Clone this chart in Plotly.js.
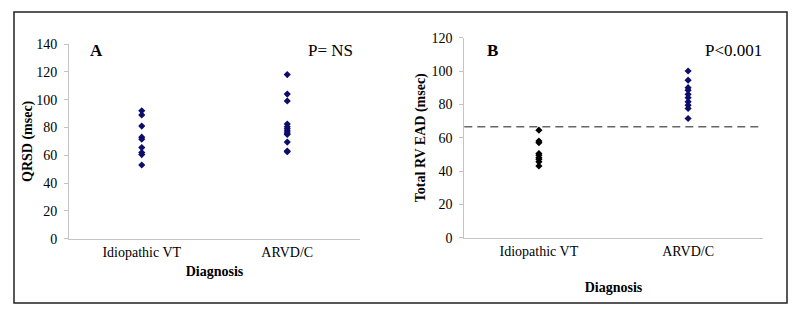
<!DOCTYPE html>
<html>
<head>
<meta charset="utf-8">
<script src="https://cdn.plot.ly/plotly-3.0.1.min.js"></script>
<style>html,body{margin:0;padding:0;background:#fff;}#chart{width:800px;height:318px;}</style>
</head>
<body>
<div id="chart"></div>
<script>
const categories = ['Idiopathic VT', 'ARVD/C'];
// Panel A: QRSD (msec)
const qrsdIdiopathic = [92, 89, 81, 73, 71.5, 65.5, 62, 60.5, 53];
const qrsdARVD = [118, 104, 99, 82.5, 80.5, 79, 77.5, 76, 75, 69.5, 63, 62.5];
// Panel B: Total RV EAD (msec)
const eadIdiopathic = [64.5, 58, 57, 50.5, 49.5, 48, 47, 45.5, 43];
const eadARVD = [100, 94.5, 90, 88.5, 86, 84, 81.5, 79.5, 77.5, 71.5];
const eadCutoff = 66.5;
const yTicksA = [0, 20, 40, 60, 80, 100, 120, 140];
const yTicksB = [0, 20, 40, 60, 80, 100, 120];

const navy = '#0d0d6b';
const serif = 'Liberation Serif';

function pts(cat, vals, color, xa, ya) {
  return {
    type: 'scatter', mode: 'markers',
    x: vals.map(() => cat), y: vals,
    xaxis: xa, yaxis: ya,
    marker: {symbol: 'diamond', size: 5.5, color: color},
    showlegend: false, hoverinfo: 'y'
  };
}

const data = [
  pts(categories[0], qrsdIdiopathic, navy, 'x', 'y'),
  pts(categories[1], qrsdARVD, navy, 'x', 'y'),
  pts(categories[0], eadIdiopathic, '#000000', 'x2', 'y2'),
  pts(categories[1], eadARVD, navy, 'x2', 'y2')
];

const axisColor = '#c4c4c4';
const xBase = {
  type: 'category', categoryarray: categories, range: [-0.5, 1.5],
  showline: true, linecolor: axisColor, linewidth: 1,
  showgrid: false, zeroline: false, ticks: '',
  tickfont: {family: serif, size: 14, color: '#000'},
  fixedrange: true
};
const yBase = {
  showline: true, linecolor: axisColor, linewidth: 1,
  showgrid: false, zeroline: false, ticks: 'outside', ticklen: 4, tickcolor: axisColor,
  ticklabelstandoff: 4,
  tickfont: {family: serif, size: 14, color: '#000'},
  fixedrange: true
};

function label(text, xpx, ypx) {
  return {text: text, xref: 'paper', yref: 'paper', x: xpx/800, y: (318-ypx)/318,
          xanchor: 'center', yanchor: 'middle', showarrow: false,
          font: {family: serif, size: 17, color: '#000'}};
}

const layout = {
  width: 800, height: 318,
  margin: {l: 0, r: 0, t: 0, b: 0},
  paper_bgcolor: '#fff', plot_bgcolor: '#fff',
  font: {family: serif},
  xaxis: Object.assign({}, xBase, {
    domain: [69/800, 360/800], anchor: 'y',
    title: {text: '<b>Diagnosis</b>', font: {family: serif, size: 14, color: '#000'}, standoff: 7}
  }),
  yaxis: Object.assign({}, yBase, {
    domain: [79.3/318, 274/318], anchor: 'x',
    range: [0, 140], tickvals: yTicksA, ticktext: yTicksA.map(String),
    title: {text: '<b>QRSD (msec)</b>', font: {family: serif, size: 14, color: '#000'}, standoff: 0}
  }),
  xaxis2: Object.assign({}, xBase, {
    domain: [464.3/800, 762.7/800], anchor: 'y2',
    title: {text: '<b>Diagnosis</b>', font: {family: serif, size: 14, color: '#000'}, standoff: 24}
  }),
  yaxis2: Object.assign({}, yBase, {
    domain: [80.3/318, 280.3/318], anchor: 'x2',
    range: [0, 120], tickvals: yTicksB, ticktext: yTicksB.map(String),
    title: {text: '<b>Total RV EAD (msec)</b>', font: {family: serif, size: 14, color: '#000'}, standoff: 2}
  }),
  shapes: [
    {type: 'rect', xref: 'paper', yref: 'paper',
     x0: 14/800, x1: 787/800, y0: 15/318, y1: 306/318,
     line: {color: '#222', width: 1.5}, fillcolor: 'rgba(0,0,0,0)'},
    {type: 'line', xref: 'x2 domain', yref: 'y2', x0: 0, x1: 1, y0: eadCutoff, y1: eadCutoff,
     line: {color: '#666', width: 1.5, dash: '8px,5px'}}
  ],
  annotations: [
    label('<b>A</b>', 96, 51),
    label('P= NS', 330, 51),
    label('<b>B</b>', 492, 51),
    label('P<0.001', 733, 51)
  ]
};

Plotly.newPlot('chart', data, layout, {displayModeBar: false, staticPlot: true});
</script>
</body>
</html>
